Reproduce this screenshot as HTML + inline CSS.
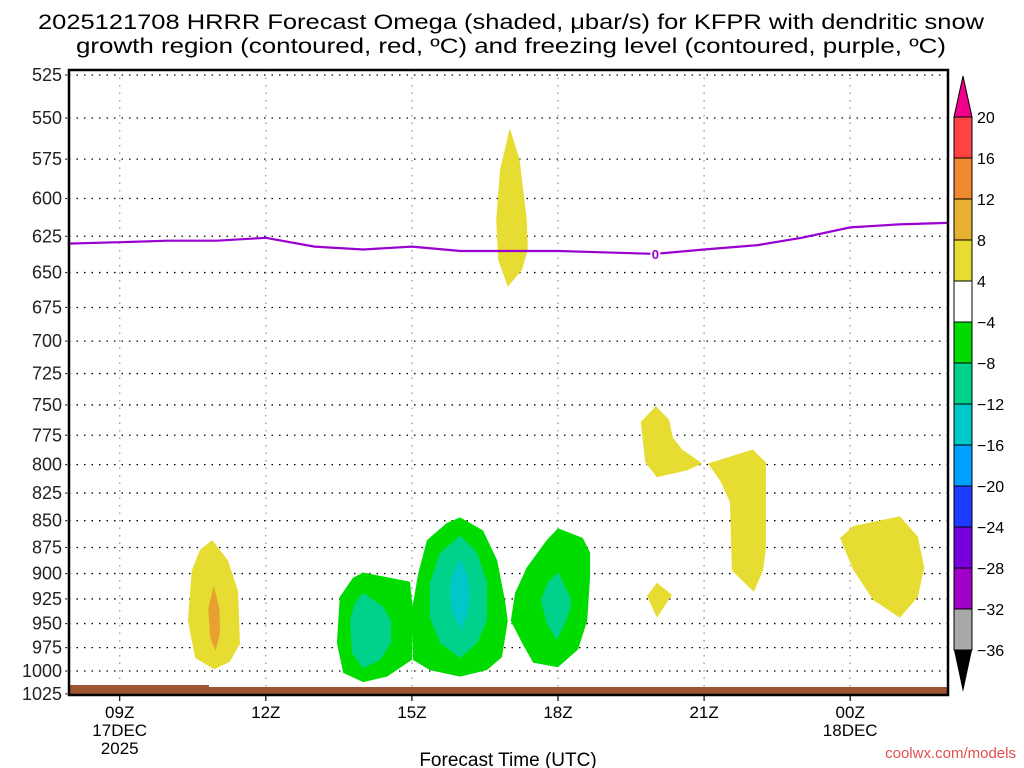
<!DOCTYPE html>
<html><head><meta charset="utf-8"><style>
html,body{margin:0;padding:0;background:#fff;}
svg{display:block;font-family:"Liberation Sans",sans-serif;}
</style></head><body>
<svg id="chart" width="1024" height="768" viewBox="0 0 1024 768">
<text x="511" y="29" text-anchor="middle" font-size="21" textLength="946" lengthAdjust="spacingAndGlyphs">2025121708 HRRR Forecast Omega (shaded, μbar/s) for KFPR with dendritic snow</text>
<text x="511" y="53" text-anchor="middle" font-size="21" textLength="870" lengthAdjust="spacingAndGlyphs">growth region (contoured, red, ºC) and freezing level (contoured, purple, ºC)</text>
<g id="grid"></g>
<g id="fills"></g>
<g id="lines"></g>
<g id="axes"></g>
<g id="cbar"></g>
<text x="508" y="766" text-anchor="middle" font-size="19">Forecast Time (UTC)</text>
<text x="1016" y="758" text-anchor="end" font-size="15" fill="#e05050">coolwx.com/models</text>
</svg>
<script>
const pressureTicks=[525,550,575,600,625,650,675,700,725,750,775,800,825,850,875,900,925,950,975,1000,1025];
const timeTicks=[9,12,15,18,21,24];
const timeLabels=[["09Z","17DEC","2025"],["12Z"],["15Z"],["18Z"],["21Z"],["00Z","18DEC"]];
const frzHours=[7.93,9,10,11,12,13,14,15,16,18,20,21,22.1,23,24,25,26];
const frzPres=[630,629,628,628,626,632,634,632,635,635,637,634,631,626,619,617,616];
const frzLabelHour=20; const frzLabelPres=637;
const cbarLevels=["20","16","12","8","4","−4","−8","−12","−16","−20","−24","−28","−32","−36"];
const cbarColors=["#ff4242","#f08a30","#e8b030","#e6dc32","#ffffff","#00dc00","#00d28c","#00c8c8","#00a0ff","#1e3cff","#7800dc","#a000c8","#a8a8a8"];
// shaded regions: [color, hours[], pressures[]]
const yel="#e6dc32",grn="#00dc00",tel="#00d28c",cyn="#00c8c8",org="#e8a030";
const regions=[
 [yel,[10.9,11.22,11.43,11.47,11.26,10.94,10.55,10.4,10.48,10.65],[868,887,917,971,990,998,986,947,897,877]],
 [org,[10.93,11.05,11.06,10.97,10.86,10.82],[912,935,960,978,965,935]],
 [yel,[17.01,17.21,17.36,17.38,17.26,16.97,16.77,16.73,16.81],[556,575,614,634,648,660,641,614,582]],
 [yel,[20.01,20.28,20.36,20.55,20.96,20.65,20.03,19.79,19.7],[751,762,777,787,799,805,811,798,764]],
 [yel,[21.08,22.0,22.27,22.27,22.21,22.02,21.57,21.53,21.33],[799,787,798,876,897,918,897,833,814]],
 [yel,[20.03,20.34,20.03,19.83],[909,921,944,922]],
 [yel,[23.79,24.06,25.02,25.39,25.52,25.39,25.02,24.47,24.06],[866,855,846,865,894,923,944,926,896]],
 [grn,[14.0,14.96,15.02,15.0,14.49,14.0,13.59,13.46,13.52,13.79],[899,908,936,988,1006,1012,1002,970,923,904]],
 [tel,[14.0,14.41,14.57,14.57,14.35,14.0,13.77,13.73,13.83],[919,933,947,970,988,997,981,947,929]],
 [grn,[15.99,16.46,16.75,16.91,16.97,16.85,16.54,15.99,15.37,15.02,15.0,15.13,15.31,15.72],[847,859,887,926,947,985,999,1006,999,988,936,900,868,852]],
 [tel,[15.99,16.34,16.54,16.54,16.34,15.99,15.58,15.37,15.37,15.58],[864,880,909,947,970,986,970,944,909,880]],
 [cyn,[15.99,16.15,16.19,16.15,16.01,15.84,15.78,15.82],[886,903,923,939,956,939,923,903]],
 [grn,[18.0,18.51,18.66,18.66,18.6,18.41,18.0,17.49,17.26,17.03,17.12,17.36,17.77],[857,866,880,903,947,977,996,991,970,947,919,894,868]],
 [tel,[18.0,18.25,18.27,18.14,17.98,17.77,17.65,17.79],[899,923,933,950,967,950,926,909]]
];
const NS="http://www.w3.org/2000/svg";
const X0=69,X1=948,Y0=70,Y1=695;
const H0=7.93,HPX=48.7;
function xs(h){return 71+(h-8)*HPX;}
function ys(p){return 75+925*Math.log(p/525);}
function mk(tag,attrs,parent){const e=document.createElementNS(NS,tag);for(const k in attrs)e.setAttribute(k,attrs[k]);parent.appendChild(e);return e;}
const grid=document.getElementById('grid'),fills=document.getElementById('fills'),lines=document.getElementById('lines'),axes=document.getElementById('axes'),cbar=document.getElementById('cbar');
// grid
pressureTicks.forEach(p=>{const y=ys(p);
 const l=mk('line',{x1:X0,x2:X1,y1:y,y2:y,stroke:'#000','stroke-width':1.3,'stroke-dasharray':'1.5 6'},grid);
 
 
});
timeTicks.forEach(h=>{const x=xs(h);
 const l=mk('line',{x1:x,x2:x,y1:Y0,y2:Y1,stroke:'#999','stroke-width':1.3,'stroke-dasharray':'1.5 6'},grid);
 
 
});
// fills
regions.forEach(r=>{
 const pts=r[1].map((h,i)=>xs(h).toFixed(1)+','+ys(r[2][i]).toFixed(1)).join(' ');
 const g=mk('polygon',{points:pts,fill:r[0]},fills);
 
 
});
// ground
const gr1=mk('rect',{x:X0,y:687,width:X1-X0,height:8,fill:'#9c5530'},fills);


const gr2=mk('rect',{x:X0,y:685,width:140,height:4,fill:'#9c5530'},fills);


// freezing line
const fpts=frzHours.map((h,i)=>xs(h).toFixed(1)+','+ys(frzPres[i]).toFixed(1)).join(' ');
const fl=mk('polyline',{points:fpts,fill:'none',stroke:'#9a00d0','stroke-width':2.2},lines);


const fbg=mk('rect',{x:xs(frzLabelHour)-5,y:ys(frzLabelPres)-7,width:10,height:14,fill:'#fff'},lines);


const ft=mk('text',{x:xs(frzLabelHour),y:ys(frzLabelPres)+5,'text-anchor':'middle','font-size':13,'font-weight':'bold',fill:'#9a00d0'},lines);
ft.textContent='0';


// axes
const fr=mk('rect',{x:X0,y:Y0,width:X1-X0,height:Y1-Y0,fill:'none',stroke:'#000','stroke-width':2.5},axes);


pressureTicks.forEach(p=>{const y=ys(p);
 const t=mk('line',{x1:X0-4,x2:X0,y1:y,y2:y,stroke:'#444','stroke-width':1.2},axes);
 
 
 const tx=mk('text',{x:X0-7,y:y+6,'text-anchor':'end','font-size':18,fill:'#222'},axes);
 tx.textContent=p;
 
 
});
timeTicks.forEach((h,i)=>{const x=xs(h);
 const t=mk('line',{x1:x,x2:x,y1:Y1,y2:Y1+6,stroke:'#000','stroke-width':1.2},axes);
 
 
 timeLabels[i].forEach((s,j)=>{
  const tx=mk('text',{x:x,y:718+j*18,'text-anchor':'middle','font-size':17},axes);
  tx.textContent=s;
  
  
 });
});
// colorbar
const CX=954,CW=18,CT=117,CB=650,bh=(CB-CT)/cbarColors.length;
const tri1=mk('polygon',{points:`${CX},${CT} ${CX+CW},${CT} ${CX+CW/2},76`,fill:'#f0008c',stroke:'#000','stroke-width':1},cbar);


const tri2=mk('polygon',{points:`${CX},${CB} ${CX+CW},${CB} ${CX+CW/2},692`,fill:'#000'},cbar);


cbarColors.forEach((c,i)=>{
 const r=mk('rect',{x:CX,y:CT+i*bh,width:CW,height:bh,fill:c,stroke:'#000','stroke-width':1},cbar);
 
 
});
cbarLevels.forEach((s,i)=>{
 const t=mk('text',{x:CX+CW+5,y:CT+i*bh+6,'font-size':16},cbar);
 t.textContent=s;
 
 
});
</script>
</body></html>
